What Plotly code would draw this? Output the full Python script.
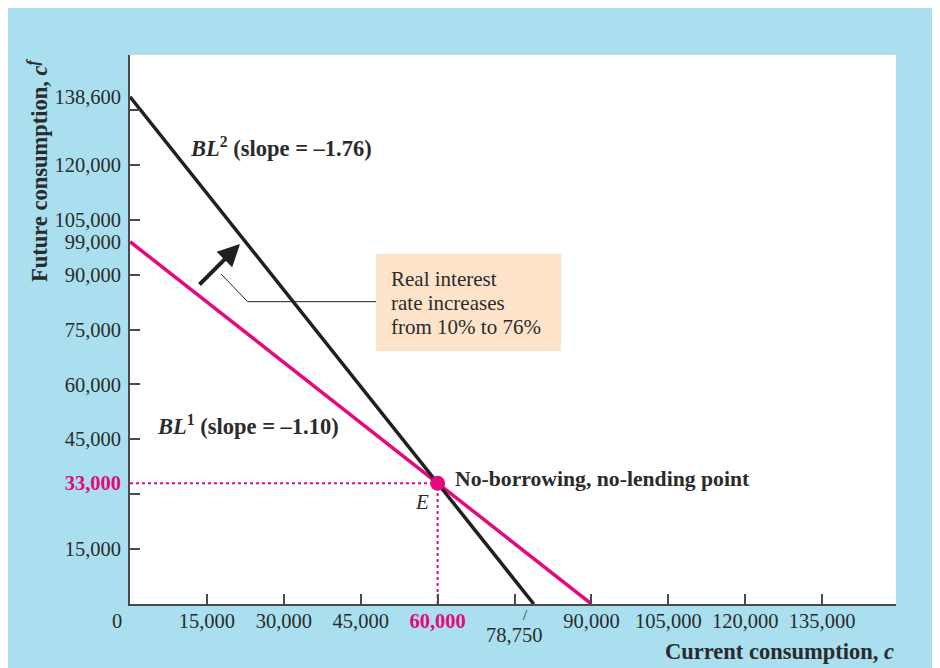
import plotly.graph_objects as go

# ---------------- data ----------------
bl1_x = [0, 90000]
bl1_y = [99000, 0]
bl2_x = [0, 78750]
bl2_y = [138600, 0]
point_x = [60000]
point_y = [33000]

tick_marks = [15000, 30000, 45000, 60000, 75000, 90000, 105000, 120000, 135000]

x_label_vals = [15000, 30000, 45000, 60000, 90000, 105000, 120000, 135000]
x_label_text = ["15,000", "30,000", "45,000", "60,000", "90,000", "105,000", "120,000", "135,000"]
y_label_vals = [15000, 33000, 45000, 60000, 75000, 90000, 99000, 105000, 120000, 138600]
y_label_text = ["15,000", "33,000", "45,000", "60,000", "75,000", "90,000", "99,000",
                "105,000", "120,000", "138,600"]

box_lines = ["Real interest", "rate increases", "from 10% to 76%"]
box_line_y = [88800, 82240, 75680]

PINK = "#e5097f"
BLACK = "#231f20"
BLUE = "#a9dfee"
PEACH = "#fde3c9"
AXIS = "#4a4a4a"
TXT = "#2b2b2b"
SERIF = "Liberation Serif"

X_MAX = 149400
Y_MAX = 150000

def pinkify(vals, texts, target):
    out = []
    for v, t in zip(vals, texts):
        if v == target:
            out.append(f"<b><span style='color:{PINK}'>{t}</span></b>")
        else:
            out.append(t)
    return out

fig = go.Figure()

# dotted guide lines to E
fig.add_trace(go.Scatter(x=[0, point_x[0]], y=[point_y[0], point_y[0]], mode="lines",
                         line=dict(color=PINK, width=2, dash="dot"), hoverinfo="skip",
                         showlegend=False))
fig.add_trace(go.Scatter(x=[point_x[0], point_x[0]], y=[0, point_y[0]], mode="lines",
                         line=dict(color=PINK, width=2, dash="dot"), hoverinfo="skip",
                         showlegend=False))
# budget lines
fig.add_trace(go.Scatter(x=bl1_x, y=bl1_y, mode="lines", line=dict(color=PINK, width=3.5),
                         showlegend=False))
fig.add_trace(go.Scatter(x=bl2_x, y=bl2_y, mode="lines", line=dict(color=BLACK, width=3.5),
                         showlegend=False))
# leader line from box
fig.add_trace(go.Scatter(x=[17750, 22950, 47970], y=[90160, 82600, 82600], mode="lines",
                         line=dict(color=BLACK, width=1), hoverinfo="skip", showlegend=False))
# point E
fig.add_trace(go.Scatter(x=point_x, y=point_y, mode="markers",
                         marker=dict(color=PINK, size=15), showlegend=False))
# invisible trace for label axes
fig.add_trace(go.Scatter(x=[0], y=[0], xaxis="x2", yaxis="y2", mode="markers",
                         marker=dict(opacity=0), hoverinfo="skip", showlegend=False))

fig.update_layout(
    width=940, height=668,
    margin=dict(l=122, r=52, t=47, b=72, pad=0),
    paper_bgcolor=BLUE,
    plot_bgcolor="white",
    font=dict(family=SERIF, color=TXT, size=20),
    xaxis=dict(range=[0, X_MAX], showgrid=False, zeroline=False,
               showline=True, linecolor=AXIS, linewidth=2,
               tickmode="array", tickvals=tick_marks, ticks="inside", ticklen=10,
               tickwidth=1.5, tickcolor=AXIS, showticklabels=False),
    yaxis=dict(range=[0, Y_MAX], showgrid=False, zeroline=False,
               showline=True, linecolor=AXIS, linewidth=2,
               tickmode="array", tickvals=tick_marks, ticks="inside", ticklen=10,
               tickwidth=1.5, tickcolor=AXIS, showticklabels=False),
    xaxis2=dict(range=[0, X_MAX], overlaying="x", anchor="y", side="bottom",
                showgrid=False, zeroline=False, showline=False, ticks="",
                tickmode="array", tickvals=x_label_vals,
                ticktext=pinkify(x_label_vals, x_label_text, 60000),
                tickfont=dict(family=SERIF, size=20.5, color=TXT), ticklabelstandoff=2),
    yaxis2=dict(range=[0, Y_MAX], overlaying="y", anchor="x", side="left",
                showgrid=False, zeroline=False, showline=False, ticks="",
                tickmode="array", tickvals=y_label_vals,
                ticktext=pinkify(y_label_vals, y_label_text, 33000),
                tickfont=dict(family=SERIF, size=20.5, color=TXT), ticklabelstandoff=8),
)

# peach text box
fig.add_shape(type="rect", xref="x", yref="y", x0=47970, x1=84050, y0=69130, y1=95630,
              fillcolor=PEACH, line=dict(width=0), layer="below")

ann = []
for line_text, ly in zip(box_lines, box_line_y):
    ann.append(dict(x=50600, y=ly, xref="x", yref="y", xanchor="left", yanchor="middle",
                    align="left", showarrow=False, text=line_text,
                    font=dict(family=SERIF, size=21, color=TXT)))
ann.append(dict(x=11370, y=124900, xref="x", yref="y", xanchor="left", yanchor="middle",
                showarrow=False, text="<b><i>BL</i><sup>2</sup> (slope = \u20131.76)</b>",
                font=dict(family=SERIF, size=22.5, color=TXT)))
ann.append(dict(x=4875, y=48900, xref="x", yref="y", xanchor="left", yanchor="middle",
                showarrow=False, text="<b><i>BL</i><sup>1</sup> (slope = \u20131.10)</b>",
                font=dict(family=SERIF, size=22.5, color=TXT)))
ann.append(dict(x=point_x[0], y=point_y[0], xref="x", yref="y", xanchor="left",
                yanchor="middle", xshift=15, yshift=4, showarrow=False,
                text="<b>No-borrowing, no-lending point</b>",
                font=dict(family=SERIF, size=21.7, color=TXT)))
ann.append(dict(x=point_x[0], y=point_y[0], xref="x", yref="y", xanchor="center",
                yanchor="middle", xshift=-16, yshift=-19, showarrow=False,
                text="<i>E</i>", font=dict(family=SERIF, size=21, color=TXT)))
# shift arrow
ann.append(dict(x=21450, y=98360, ax=13260, ay=86890, xref="x", yref="y", axref="x",
                ayref="y", showarrow=True, arrowhead=2, arrowsize=1.1, arrowwidth=4,
                arrowcolor=BLACK, text=""))
# origin and 78,750 labels
ann.append(dict(x=0, y=0, xref="x", yref="y", xanchor="center", yanchor="middle",
                xshift=-13, yshift=-17, showarrow=False, text="0",
                font=dict(family=SERIF, size=20.5, color=TXT)))
ann.append(dict(x=bl2_x[1], y=0, xref="x", yref="y", xanchor="center", yanchor="middle",
                xshift=-20, yshift=-31, showarrow=False, text="78,750",
                font=dict(family=SERIF, size=20.5, color=TXT)))
ann.append(dict(x=bl2_x[1], y=0, xref="x", yref="y", xanchor="center", yanchor="middle",
                xshift=-8, yshift=-11, showarrow=False, text="/",
                font=dict(family=SERIF, size=15, color=TXT)))
# axis titles
ann.append(dict(x=1.0, y=-0.0874, xref="paper", yref="paper", xanchor="right",
                yanchor="middle", showarrow=False,
                text="<b>Current consumption, <i>c</i></b>",
                font=dict(family=SERIF, size=22.5, color=TXT)))
ann.append(dict(x=-0.1201, y=0.7905, xref="paper", yref="paper", xanchor="center",
                yanchor="middle", showarrow=False, textangle=-90,
                text="<b>Future consumption, <i>c</i><sup><i>f</i></sup></b>",
                font=dict(family=SERIF, size=22.5, color=TXT)))
fig.update_layout(annotations=ann)

fig.write_html(
    "out.html",
    post_script="document.documentElement.style.overflow='hidden';"
                "document.body.style.overflow='hidden';",
)
